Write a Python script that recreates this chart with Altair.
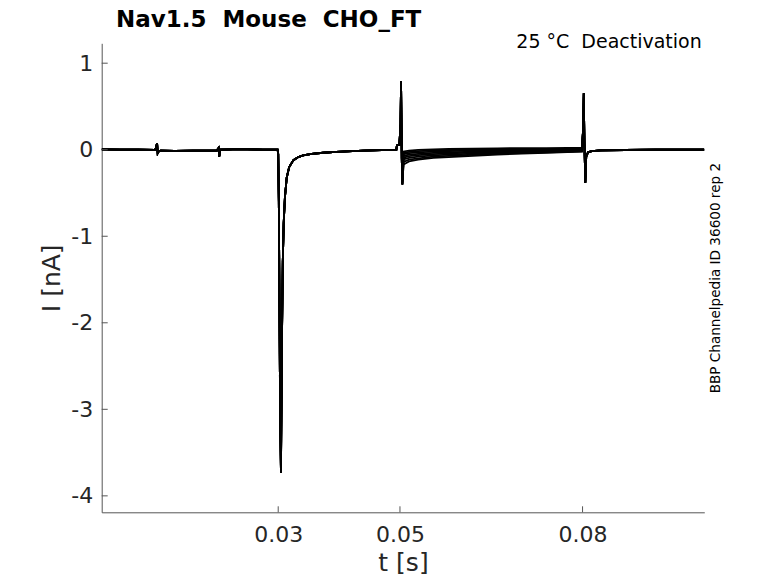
import altair as alt
import pandas as pd

# ---- data (t in s, I in nA) ----
pre_t = [0.001, 0.004, 0.007, 0.0098, 0.0101, 0.0102, 0.0104, 0.0107, 0.013, 0.016, 0.0199,
         0.0202, 0.0203, 0.0205, 0.0225, 0.025, 0.0275, 0.0299, 0.0300, 0.0301, 0.0302, 0.0303,
         0.03045, 0.0306, 0.03075, 0.0309, 0.0311, 0.0314, 0.0318, 0.0325, 0.0333, 0.0341,
         0.0355, 0.0374, 0.0395, 0.0413, 0.044, 0.047, 0.0494, 0.0495, 0.0499, 0.0501,
         0.05018, 0.0503, 0.05038]
pre_i = [0.003, 0.001, 0.0, -0.003, 0.075, -0.04, -0.015, -0.012, -0.013, -0.012, -0.01,
         0.02, -0.08, 0.0, 0.004, 0.003, 0.002, 0.0, -0.05, -0.6, -1.7, -2.9,
         -3.73, -2.3, -1.3, -0.85, -0.55, -0.32, -0.2, -0.12, -0.085, -0.065,
         -0.048, -0.035, -0.025, -0.018, -0.01, -0.005, -0.002, 0.05, 0.055, 0.3,
         0.788, -0.1, -0.40]

tail_t = [0.0506, 0.0515, 0.053, 0.0555, 0.058, 0.062, 0.066, 0.070, 0.074, 0.0775, 0.0799]
tail_sweeps = [
    [-0.17, -0.135, -0.115, -0.095, -0.085, -0.07, -0.055, -0.045, -0.035, -0.028, -0.022],
    [-0.14, -0.115, -0.10, -0.08, -0.07, -0.058, -0.047, -0.038, -0.03, -0.024, -0.018],
    [-0.11, -0.095, -0.08, -0.065, -0.057, -0.046, -0.037, -0.03, -0.023, -0.018, -0.013],
    [-0.09, -0.075, -0.063, -0.05, -0.043, -0.034, -0.027, -0.02, -0.015, -0.011, -0.008],
    [-0.07, -0.057, -0.047, -0.036, -0.03, -0.022, -0.016, -0.011, -0.007, -0.004, -0.002],
    [-0.05, -0.04, -0.031, -0.022, -0.016, -0.01, -0.005, -0.002, 0.001, 0.003, 0.004],
    [-0.035, -0.025, -0.016, -0.008, -0.003, 0.002, 0.006, 0.008, 0.01, 0.011, 0.012],
    [-0.02, -0.01, -0.002, 0.005, 0.009, 0.013, 0.016, 0.018, 0.019, 0.02, 0.02],
]

post_t = [0.0801, 0.0802, 0.0803, 0.08045, 0.0806, 0.0809, 0.0815, 0.083, 0.087, 0.092, 0.096, 0.1]
post_i = [0.25, 0.654, 0.1, -0.38, -0.08, -0.03, -0.015, -0.008, -0.003, 0.0, 0.0, 0.0]

x_ticks = [0.03, 0.05, 0.08]
y_ticks = [-4, -3, -2, -1, 0, 1]

rows = []
for k, tail in enumerate(tail_sweeps):
    ts = pre_t + tail_t + post_t
    vs = pre_i + tail + post_i
    for j, (t, v) in enumerate(zip(ts, vs)):
        rows.append({"t": t, "I": v, "sweep": k, "o": j})
df = pd.DataFrame(rows)

W, H = 602.6, 469
FONT = "DejaVu Sans"
TXT = "#262626"

xscale = alt.Scale(domain=[0.001, 0.1], nice=False, zero=False)
yscale = alt.Scale(domain=[-4.19, 1.23], nice=False, zero=False)

lines = alt.Chart(df).mark_line(color="black", strokeWidth=1.8, clip=True).encode(
    x=alt.X("t:Q", scale=xscale,
            axis=alt.Axis(values=x_ticks, format=".2f", title="t [s]", ticks=False,
                          grid=False, labelPadding=12, labelFontSize=22, labelFont=FONT,
                          labelColor=TXT, titleFont=FONT, titleFontSize=25,
                          titleFontWeight="normal", titleColor=TXT,
                          titleBaseline="alphabetic", titleY=58.5, titleX=W / 2,
                          domainColor="#555555", domainWidth=1, labelFlush=False)),
    y=alt.Y("I:Q", scale=yscale,
            axis=alt.Axis(values=y_ticks, labelExpr="datum.value + ''", title="I [nA]",
                          ticks=False, grid=False, labelPadding=9, labelFontSize=22,
                          labelFont=FONT, labelColor=TXT, titleFont=FONT, titleFontSize=25,
                          titleFontWeight="normal", titleColor=TXT,
                          titleBaseline="alphabetic", titleX=-42, titleY=H / 2,
                          domainColor="#555555", domainWidth=1, labelFlush=False)),
    detail="sweep:N",
    order="o:Q",
)

xt = alt.Chart(pd.DataFrame({"v": x_ticks})).mark_rule(color="#555555", strokeWidth=1).encode(
    x=alt.X("v:Q", scale=xscale), y=alt.value(H), y2=alt.value(H - 6))
yt = alt.Chart(pd.DataFrame({"v": y_ticks})).mark_rule(color="#555555", strokeWidth=1).encode(
    y=alt.Y("v:Q", scale=yscale), x=alt.value(0), x2=alt.value(6))

one = pd.DataFrame({"a": [0]})
title = alt.Chart(one).mark_text(text="Nav1.5\u00a0\u00a0Mouse\u00a0\u00a0CHO_FT", font=FONT,
                                 fontSize=23, fontWeight="bold", color="black",
                                 align="left", baseline="alphabetic").encode(
    x=alt.value(14.3), y=alt.value(-16.5))
cond = alt.Chart(one).mark_text(text="25 \u00b0C\u00a0\u00a0Deactivation", font=FONT,
                                fontSize=19, color="black", align="right",
                                baseline="alphabetic").encode(
    x=alt.value(600), y=alt.value(4.4))
side = alt.Chart(one).mark_text(text="BBP Channelpedia ID 36600 rep 2", font=FONT,
                                fontSize=13.6, color="black", align="left",
                                baseline="alphabetic", angle=270).encode(
    x=alt.value(618), y=alt.value(350))

chart = alt.layer(lines, xt, yt, title, cond, side).properties(
    width=W, height=H,
    background="white",
    padding={"left": 93.7, "top": 35.3, "right": 60, "bottom": 62.5},
    autosize=alt.AutoSizeParams(type="none"),
).configure_view(stroke=None)

chart.save("out.html", embed_options={"renderer": "svg", "actions": False})
